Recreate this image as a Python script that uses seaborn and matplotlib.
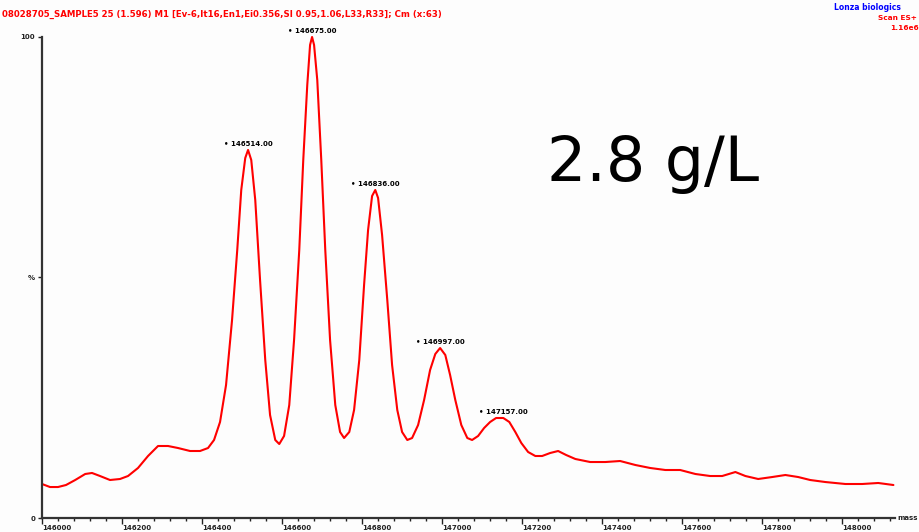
import matplotlib
matplotlib.use("Agg")
import matplotlib.pyplot as plt
from matplotlib.ticker import MultipleLocator
import pandas as pd
import seaborn as sns

# deconvoluted spectrum (mass in Da, intensity in %)
mass = [146000, 146020, 146040, 146060, 146083, 146108, 146125, 146145, 146170, 146195,
        146215, 146240, 146265, 146290, 146315, 146340, 146370, 146395, 146415, 146430,
        146445, 146460, 146475, 146488, 146498, 146508, 146515, 146523, 146533, 146545,
        146558, 146570, 146583, 146593, 146605, 146618, 146630, 146643, 146653, 146663,
        146670, 146675, 146680, 146688, 146698, 146708, 146720, 146733, 146745, 146755,
        146768, 146780, 146793, 146805, 146815, 146825, 146833, 146840, 146850, 146863,
        146875, 146888, 146900, 146913, 146925, 146940, 146955, 146970, 146983, 146995,
        147008, 147020, 147033, 147048, 147063, 147075, 147090, 147105, 147120, 147135,
        147153, 147168, 147183, 147198, 147215, 147233, 147250, 147270, 147290, 147310,
        147333, 147370, 147408, 147445, 147483, 147520, 147558, 147595, 147633, 147670,
        147700, 147733, 147758, 147790, 147825, 147858, 147890, 147920, 147958, 148008,
        148050, 148090, 148128]
intensity = [7.07, 6.44, 6.44, 6.86, 7.90, 9.15, 9.36, 8.73, 7.90, 8.11,
             8.73, 10.40, 12.89, 14.97, 14.97, 14.55, 13.93, 13.93, 14.55, 16.22,
             19.96, 27.65, 41.16, 55.72, 68.19, 74.84, 76.51, 74.43, 66.11, 49.48,
             32.85, 21.41, 16.22, 15.38, 17.05, 23.49, 37.01, 55.72, 74.43, 90.02,
             98.34, 100.0, 98.34, 91.06, 74.43, 55.72, 37.01, 23.49, 17.88, 16.63,
             17.88, 22.45, 32.85, 48.44, 59.88, 66.94, 68.19, 66.53, 58.84, 45.32,
             31.81, 22.45, 17.88, 16.22, 16.63, 19.33, 24.53, 30.77, 34.10, 35.34,
             33.89, 29.73, 24.53, 19.33, 16.63, 16.22, 17.05, 18.71, 19.96, 20.79,
             20.79, 19.96, 17.88, 15.59, 13.72, 12.89, 12.89, 13.51, 13.93, 13.10,
             12.27, 11.64, 11.64, 11.85, 11.02, 10.40, 9.98, 9.98, 9.15, 8.73,
             8.73, 9.56, 8.73, 8.11, 8.52, 8.94, 8.52, 7.90, 7.48, 7.07,
             7.07, 7.28, 6.86]

# labelled peaks
peak_mass = [146515, 146675, 146833, 146995, 147153]
peak_int = [76.51, 100.0, 68.19, 35.34, 20.79]
peak_text = ["146514.00", "146675.00", "146836.00", "146997.00", "147157.00"]

x_ticks = list(range(146000, 148001, 200))

df = pd.DataFrame({"mass": mass, "intensity": intensity})

sns.set_style("white")
fig = plt.figure(figsize=(9.19, 5.32), dpi=100)
fig.patch.set_facecolor("#fdfdfd")
ax = fig.add_axes([0.0457, 0.0263, 0.9282, 0.9042])
ax.set_facecolor("#fdfdfd")

sns.lineplot(data=df, x="mass", y="intensity", ax=ax, color="#ff0000",
             linewidth=1.5, clip_on=False)

ax.set_xlim(146000, 148132)
ax.set_ylim(0, 100)
ax.set_xlabel("")
ax.set_ylabel("")

for s in ["top", "right"]:
    ax.spines[s].set_visible(False)
for s in ["left", "bottom"]:
    ax.spines[s].set_color("#333333")
    ax.spines[s].set_linewidth(1.6)

ax.set_xticks(x_ticks)
ax.set_xticklabels([str(t) for t in x_ticks], fontsize=5, fontweight="bold", ha="left")
ax.xaxis.set_minor_locator(MultipleLocator(40))
ax.tick_params(axis="x", which="major", direction="out", length=4, width=1,
               pad=1, colors="#222222", bottom=True)
ax.tick_params(axis="x", which="minor", direction="out", length=2, width=1,
               colors="#222222", bottom=True)
ax.set_yticks([0, 50, 100])
ax.set_yticklabels(["0", "%", "100"], fontsize=5, fontweight="bold")
ax.tick_params(axis="y", direction="out", length=3, width=1, pad=2,
               colors="#222222", left=True)

for m, v, t in zip(peak_mass, peak_int, peak_text):
    ax.annotate("\u2022 " + t, (m, v), xytext=(0, 2), textcoords="offset points",
                ha="center", va="bottom", fontsize=5, fontweight="bold",
                color="black", annotation_clip=False)

ax.text(1.003, 0.0, "mass", transform=ax.transAxes, fontsize=5, fontweight="bold",
        ha="left", va="center", color="#222222", clip_on=False)

ax.text(0.592, 0.735, "2.8 g/L", transform=ax.transAxes, fontsize=44.5,
        color="black", ha="left", va="center")

fig.text(0.002, 0.973,
         "08028705_SAMPLE5 25 (1.596) M1 [Ev-6,It16,En1,Ei0.356,Sl 0.95,1.06,L33,R33]; Cm (x:63)",
         fontsize=6.2, fontweight="bold", color="#ff0000", ha="left", va="center")
fig.text(0.908, 0.985, "Lonza biologics", fontsize=5.5, fontweight="bold",
         color="#0000ff", ha="left", va="center")
fig.text(1.0, 0.966, "Scan ES+ ", fontsize=5.3, fontweight="bold",
         color="#ff0000", ha="right", va="center")
fig.text(1.0, 0.948, "1.16e6", fontsize=5.3, fontweight="bold",
         color="#ff0000", ha="right", va="center")

fig.savefig("out.png", dpi=100, facecolor=fig.get_facecolor())
